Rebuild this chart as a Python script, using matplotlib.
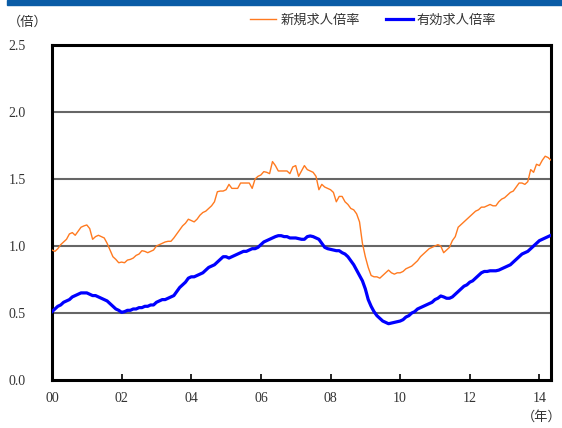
import numpy as np
import matplotlib
matplotlib.use("Agg")
import matplotlib.pyplot as plt
from matplotlib.patches import Rectangle

plt.rcParams['font.family'] = ['Noto Sans CJK JP', 'DejaVu Sans']

# monthly values, Jan 2000 .. May 2014
new_ratio = [
    0.97, 0.96, 0.98, 1.01, 1.03, 1.05, 1.09, 1.10, 1.08, 1.11, 1.14, 1.15,   # 2000
    1.157, 1.13, 1.05, 1.07, 1.08, 1.07, 1.06, 1.02, 0.97, 0.92, 0.90, 0.875, # 2001
    0.88, 0.875, 0.895, 0.90, 0.91, 0.93, 0.94, 0.965, 0.96, 0.95, 0.96, 0.97, # 2002
    1.00, 1.01, 1.02, 1.03, 1.035, 1.035, 1.06, 1.09, 1.12, 1.15, 1.17, 1.20,  # 2003
    1.19, 1.18, 1.20, 1.23, 1.25, 1.26, 1.28, 1.30, 1.33, 1.405, 1.41, 1.41,   # 2004
    1.42, 1.46, 1.43, 1.43, 1.43, 1.47, 1.47, 1.47, 1.47, 1.43, 1.50, 1.52,    # 2005
    1.53, 1.555, 1.55, 1.54, 1.63, 1.60, 1.56, 1.56, 1.56, 1.56, 1.54, 1.59,   # 2006
    1.60, 1.52, 1.56, 1.60, 1.57, 1.56, 1.55, 1.52, 1.42, 1.46, 1.44, 1.43,    # 2007
    1.42, 1.40, 1.33, 1.37, 1.37, 1.33, 1.31, 1.28, 1.27, 1.24, 1.18, 1.02,    # 2008
    0.92, 0.84, 0.78, 0.77, 0.77, 0.76, 0.78, 0.80, 0.82, 0.80, 0.79, 0.80,    # 2009
    0.80, 0.81, 0.83, 0.84, 0.85, 0.87, 0.89, 0.92, 0.94, 0.96, 0.98, 0.99,    # 2010
    1.00, 1.01, 1.00, 0.95, 0.97, 0.99, 1.04, 1.07, 1.14, 1.16, 1.18, 1.20,    # 2011
    1.22, 1.24, 1.26, 1.27, 1.29, 1.29, 1.30, 1.31, 1.30, 1.30, 1.33, 1.35,    # 2012
    1.36, 1.38, 1.40, 1.41, 1.44, 1.47, 1.47, 1.46, 1.48, 1.57, 1.55, 1.61,    # 2013
    1.60, 1.64, 1.67, 1.66, 1.64,                                              # 2014
]

active_ratio = [
    0.51, 0.53, 0.55, 0.56, 0.58, 0.59, 0.60, 0.62, 0.63, 0.64, 0.65, 0.65,
    0.65, 0.64, 0.63, 0.63, 0.62, 0.61, 0.60, 0.59, 0.57, 0.55, 0.53, 0.52,
    0.505, 0.51, 0.52, 0.52, 0.53, 0.53, 0.54, 0.54, 0.55, 0.55, 0.56, 0.56,
    0.58, 0.59, 0.60, 0.60, 0.61, 0.62, 0.63, 0.66, 0.69, 0.71, 0.73, 0.76,
    0.77, 0.77, 0.78, 0.79, 0.80, 0.82, 0.84, 0.85, 0.86, 0.88, 0.90, 0.92,
    0.92, 0.91, 0.92, 0.93, 0.94, 0.95, 0.96, 0.96, 0.97, 0.98, 0.98, 0.99,
    1.01, 1.03, 1.04, 1.05, 1.06, 1.07, 1.077, 1.077, 1.07, 1.07, 1.06, 1.06,
    1.06, 1.055, 1.05, 1.05, 1.07, 1.075, 1.07, 1.06, 1.05, 1.02, 0.99, 0.98,
    0.975, 0.97, 0.965, 0.965, 0.95, 0.94, 0.92, 0.89, 0.86, 0.82, 0.78, 0.74,
    0.68, 0.60, 0.55, 0.51, 0.48, 0.46, 0.44, 0.43, 0.42, 0.425, 0.43, 0.435,
    0.44, 0.45, 0.47, 0.48, 0.50, 0.51, 0.53, 0.54, 0.55, 0.56, 0.57, 0.58,
    0.60, 0.61, 0.627, 0.62, 0.61, 0.61, 0.62, 0.64, 0.66, 0.68, 0.70, 0.71,
    0.73, 0.74, 0.76, 0.78, 0.80, 0.81, 0.81, 0.815, 0.815, 0.815, 0.82, 0.83,
    0.84, 0.85, 0.86, 0.88, 0.90, 0.92, 0.94, 0.95, 0.96, 0.98, 1.00, 1.02,
    1.04, 1.05, 1.06, 1.07, 1.08,
]

year_ticks = [0, 2, 4, 6, 8, 10, 12, 14]
year_labels = ['00', '02', '04', '06', '08', '10', '12', '14']
y_ticks = [0.0, 0.5, 1.0, 1.5, 2.0, 2.5]

t = np.arange(len(new_ratio)) / 12.0

fig = plt.figure(figsize=(5.62, 4.28), dpi=100)
ax = fig.add_axes([52/562, 1-380/428, (551-52)/562, (380-45)/428])

# blue band at the top
fig.patches.append(Rectangle((7/562, 1-5/428), 1, 5/428, transform=fig.transFigure,
                             color='#0a5ca6', zorder=0))

for v in y_ticks[1:-1]:
    ax.axhline(v, color='#666666', lw=1.5, zorder=1)

ax.plot(t, new_ratio, color='#ff7a20', lw=1.0, label='新規求人倍率', zorder=3)
ax.plot(t, active_ratio, color='#0000ff', lw=2.3, label='有効求人倍率', zorder=3)

ax.set_xlim(0, (len(new_ratio) - 1) / 12.0)
ax.set_ylim(0, 2.5)
for s in ax.spines.values():
    s.set_linewidth(2.2)
    s.set_color('black')

tick_font = {'family': ['Liberation Serif', 'Noto Sans CJK JP'], 'size': 10}
ax.set_xticks(year_ticks)
ax.set_xticklabels(year_labels, fontdict=tick_font, color='#333333')
ax.set_yticks(y_ticks)
ax.set_yticklabels(['%.1f' % v for v in y_ticks], fontdict=tick_font, color='#333333')
ax.tick_params(axis='x', direction='in', length=4, width=1.2, pad=9)
ax.tick_params(axis='y', length=0, pad=19)

fig.text(8/562, 1-22/428, '（倍）', fontsize=9.5, color='#333333', va='center', ha='left')
fig.text(562/562, 1-417/428, '（年）', fontsize=9.5, color='#333333', va='center', ha='right')

fig.legend(loc='center', bbox_to_anchor=(373/562, 1-20/428), ncol=2, frameon=False,
           fontsize=9.5, handlelength=2.0, handletextpad=0.3, columnspacing=2.0,
           labelcolor='#333333')

fig.savefig('out.png', dpi=100)
